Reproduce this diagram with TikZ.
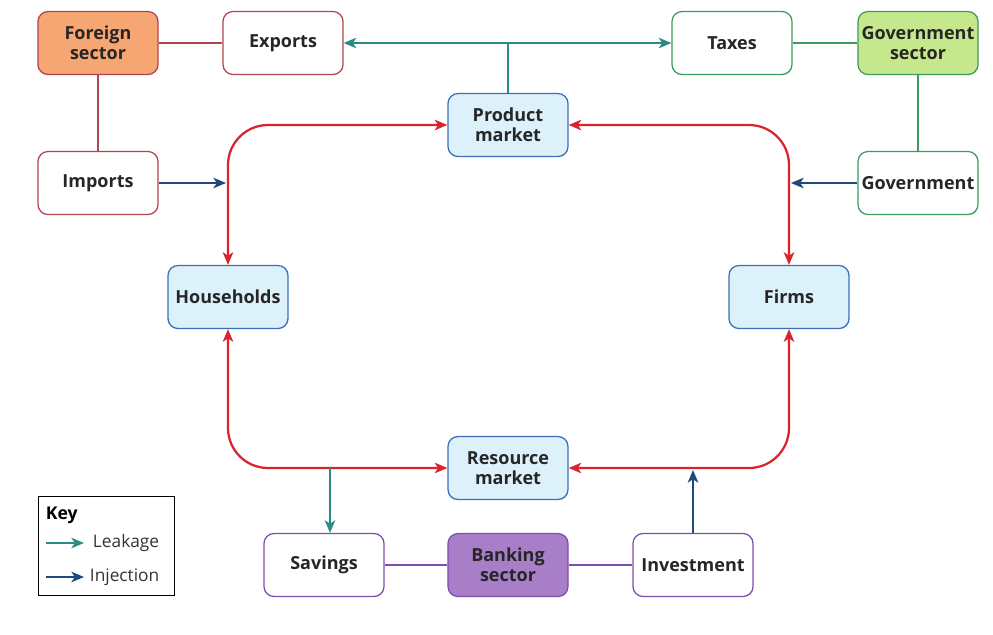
\documentclass[tikz,border=0pt]{standalone}
\usepackage{fontspec}
\setmainfont{Open Sans}
\usepackage{xcolor}
\usepackage{tikz}
\usetikzlibrary{arrows.meta, positioning, calc}

\definecolor{flowred}{HTML}{D9232D}
\definecolor{leakteal}{HTML}{2A8C84}
\definecolor{injnavy}{HTML}{1D4A7A}
\definecolor{forline}{HTML}{B0454F}
\definecolor{forfill}{HTML}{F5A673}
\definecolor{govline}{HTML}{3E9A5E}
\definecolor{govfill}{HTML}{C5E88C}
\definecolor{mktline}{HTML}{3A6FB8}
\definecolor{mktfill}{HTML}{DDF1FB}
\definecolor{bankline}{HTML}{7E4EAE}
\definecolor{bankfill}{HTML}{A97EC8}

\begin{document}
\begin{tikzpicture}[
    x=0.025cm, y=-0.025cm,
    box/.style={
        rectangle, draw, rounded corners=0.25cm, line width=0.9pt,
        minimum width=3cm, minimum height=1.575cm,
        align=center, font=\bfseries\fontsize{12.8}{14.5}\selectfont,
        inner sep=2pt, fill=white, text=black!85
    },
    forbox/.style={box, draw=forline},
    govbox/.style={box, draw=govline},
    mktbox/.style={box, draw=mktline, fill=mktfill},
    bankbox/.style={box, draw=bankline},
    link/.style={line width=0.9pt},
    flow/.style={{Stealth[length=9pt,width=7.5pt,inset=2.5pt]}-{Stealth[length=9pt,width=7.5pt,inset=2.5pt]}, line width=1.6pt, draw=flowred, rounded corners=1cm},
    leak/.style={-{Stealth[length=9pt,width=7.5pt,inset=2.5pt]}, line width=1.2pt, draw=leakteal},
    inject/.style={-{Stealth[length=9pt,width=7.5pt,inset=2.5pt]}, line width=1.2pt, draw=injnavy}
]
\useasboundingbox (0,0) rectangle (993,634);

% Outer sectors
\node[forbox, fill=forfill] (foreign) at (98,43)  {Foreign\\sector};
\node[forbox]               (exports) at (283,43) {Exports};
\node[forbox]               (imports) at (98,183) {Imports};
\node[govbox]               (taxes)   at (732,43) {Taxes};
\node[govbox, fill=govfill] (govsec)  at (918,43) {Government\\sector};
\node[govbox]               (govt)    at (918,183) {Government};
\node[bankbox]              (savings) at (324,565) {Savings};
\node[bankbox, fill=bankfill] (bank)  at (508,565) {Banking\\sector};
\node[bankbox]              (invest)  at (693,565) {Investment};

% Circular flow
\node[mktbox] (product)  at (508,125) {Product\\market};
\node[mktbox] (resource) at (508,468) {Resource\\market};
\node[mktbox] (house)    at (228,297) {Households};
\node[mktbox] (firms)    at (789,297) {Firms};

\draw[flow] (house.north) |- (product.west);
\draw[flow] (firms.north) |- (product.east);
\draw[flow] (house.south) |- (resource.west);
\draw[flow] (firms.south) |- (resource.east);

% Sector links
\draw[link, draw=forline]  (foreign) -- (exports);
\draw[link, draw=forline]  (foreign) -- (imports);
\draw[link, draw=govline]  (taxes)   -- (govsec);
\draw[link, draw=govline]  (govsec)  -- (govt);
\draw[link, draw=bankline] (savings) -- (bank);
\draw[link, draw=bankline] (bank)    -- (invest);

% Leakages and injections
\coordinate (split) at (product.north |- exports.east);
\draw[link, draw=leakteal] (product.north) -- (split);
\draw[leak] (split) -- (exports.east);
\draw[leak] (split) -- (taxes.west);
\coordinate (savtap) at (330,468);
\draw[leak] (savtap) -- (savtap |- savings.north);
\draw[inject] (imports.east) -- ($(imports.east -| house.north)+(-2,0)$);
\draw[inject] (govt.west) -- ($(govt.west -| firms.north)+(2,0)$);
\draw[inject] (invest.north) -- ($(invest.north |- resource.east)+(0,2)$);

% Key
\node[draw, line width=0.6pt, minimum width=3.4cm, minimum height=2.475cm] (key) at (106,545.5) {};
\node[anchor=west, font=\bfseries\fontsize{12.5}{14}\selectfont] (keytitle) at (41,515) {Key};
\coordinate (lk0) at (46,543);
\coordinate (lk1) at (84,543);
\coordinate (in0) at (46,577);
\coordinate (in1) at (84,577);
\draw[leak] (lk0) -- (lk1);
\draw[inject] (in0) -- (in1);
\node[anchor=west, font=\fontsize{12.3}{14}\selectfont, text=black!80] (lklabel) at (88,543) {Leakage};
\node[anchor=west, font=\fontsize{12.3}{14}\selectfont, text=black!80] (inlabel) at (85,577) {Injection};

\end{tikzpicture}
\end{document}
